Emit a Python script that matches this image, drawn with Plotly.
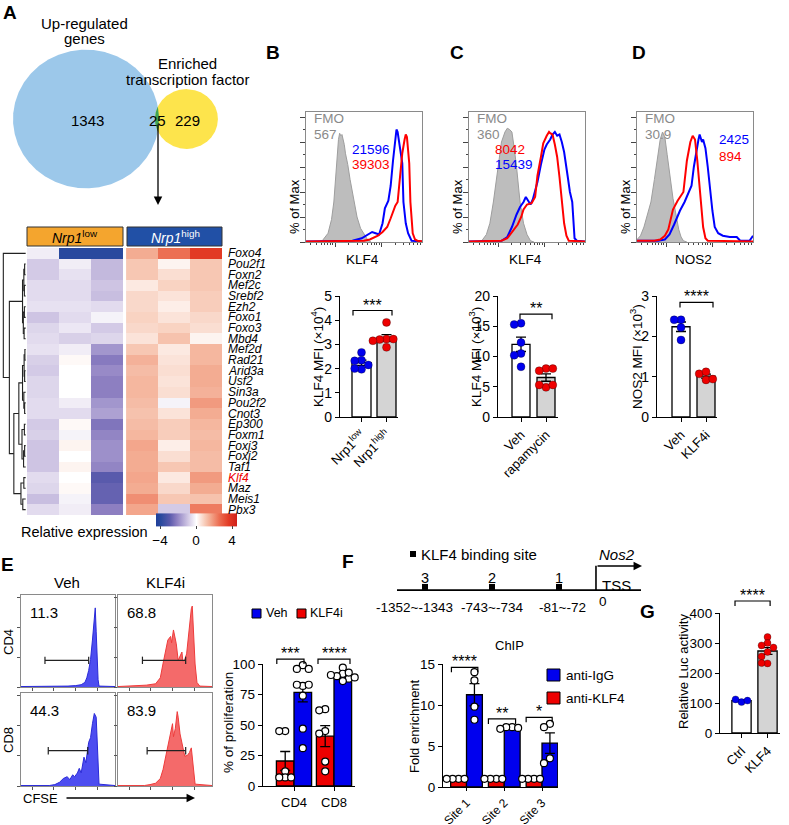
import numpy as np
import plotly.graph_objects as go

W, H = 789, 825
FONT = "Arial, Liberation Sans, sans-serif"
BLUE, RED, GREY = "#0000ee", "#ee0000", "#d4d4d4"

# ---------------- A: Venn counts and heatmap
venn_blue_only, venn_both, venn_yellow_only = 1343, 25, 229

genes = ["Foxo4", "Pou2f1", "Foxn2", "Mef2c", "Srebf2", "Ezh2", "Foxo1", "Foxo3", "Mbd4",
         "Mef2d", "Rad21", "Arid3a", "Usf2", "Sin3a", "Pou2f2", "Cnot3", "Ep300", "Foxm1",
         "Foxj3", "Foxj2", "Taf1", "Klf4", "Maz", "Meis1", "Pbx3"]
expr_low = [
    [-0.3, -4.0, -4.0], [-0.9, -0.3, -1.2], [-0.9, -0.5, -1.2], [-0.6, -0.6, -1.0],
    [-0.6, -0.6, -1.1], [-0.5, -0.5, -0.6], [-1.0, -0.6, -0.2], [-0.7, -0.4, -0.9],
    [-0.6, -0.8, -0.7], [-0.5, -0.3, -1.8], [-0.8, 0.1, -2.3], [-0.9, 0.0, -2.0],
    [-0.7, 0.0, -2.2], [-0.7, 0.0, -2.2], [-0.6, -0.3, -1.8], [-0.6, -0.6, -1.6],
    [-0.9, 0.1, -2.4], [-0.8, -0.2, -2.1], [-1.0, 0.2, -1.9], [-1.0, 0.0, -1.9],
    [-1.0, 0.2, -2.1], [-0.6, 0.0, -3.0], [-0.7, 0.1, -2.8], [-1.1, -0.2, -2.8],
    [-0.6, -0.3, -2.2]]
expr_high = [
    [1.5, 2.5, 3.6], [1.0, 0.2, 1.0], [1.0, 0.6, 1.0], [0.4, 0.8, 1.0],
    [0.7, 0.5, 0.9], [0.7, 0.3, 0.9], [0.8, 0.5, 0.7], [0.7, 0.8, 0.6],
    [0.5, 1.1, 0.2], [1.0, 0.4, 1.3], [1.4, 0.5, 1.3], [1.2, 0.6, 1.5],
    [1.3, 0.5, 1.5], [1.3, 0.6, 1.4], [1.2, -0.2, 1.8], [1.1, 0.5, 1.5],
    [1.2, 0.9, 1.3], [1.3, 0.9, 1.2], [1.6, 0.3, 1.3], [1.5, 0.6, 1.2],
    [1.5, 1.0, 1.2], [1.6, 0.4, 1.8], [1.5, 0.7, 1.5], [2.0, 1.0, 1.1],
    [1.6, -0.9, 2.3]]
# row clustering as (height, left, right); ints are row indices
top_group = (0.12, (0.07, (0.04, 1, 2), (0.05, 3, 4)), (0.09, (0.05, 5, 6), (0.06, 7, 8)))
mid_group = (0.26, (0.12, (0.06, (0.03, 9, 10), (0.04, 11, 12)), (0.07, 13, (0.04, 14, 15))),
             (0.14, (0.05, 16, 17), (0.08, (0.04, 18, 19), 20)))
low_group = (0.18, (0.07, 21, 22), (0.11, 23, 24))
dendro_tree = (0.85, 0, (0.62, top_group, (0.45, mid_group, low_group)))

# ---------------- B-D flow histograms (x: position on log axis 0-100, y: % of max)
B_fmo_x = [10, 14, 19, 22, 24, 26, 27, 28, 29, 30, 31, 33, 34, 36, 38, 41, 44, 47, 50, 53, 56]
B_fmo_y = [0, 1, 7, 18, 32, 55, 72, 82, 87, 85, 86, 78, 71, 62, 50, 34, 20, 11, 6, 2, 0]
B_low_x = [0, 28, 40, 48, 53, 57, 60, 63, 66, 68, 71, 73, 75, 76, 77, 78, 79, 81, 83, 84, 86, 88, 91, 100]
B_low_y = [0.5, 0.5, 1, 3, 6, 8, 7, 6, 15, 27, 33, 45, 65, 73, 85, 90, 88, 75, 63, 32, 15, 7, 1, 0.5]
B_high_x = [0, 40, 50, 55, 62, 66, 70, 73, 75, 77, 79, 81, 83, 85, 86, 87, 88, 89, 90, 91, 92, 94, 96, 100]
B_high_y = [0.5, 0.5, 1, 2, 5, 8, 12, 19, 25, 29, 32, 52, 71, 82, 86, 84, 75, 63, 32, 15, 7, 2, 1, 0.5]

C_fmo_x = [5, 11, 15, 18, 21, 25, 28, 31, 33, 35, 37, 39, 41, 44, 47, 50, 53, 56]
C_fmo_y = [0, 1, 6, 15, 32, 60, 80, 88, 91, 90, 88, 75, 60, 32, 15, 6, 1, 0]
C_rapa_x = [0, 20, 28, 33, 38, 42, 45, 47, 50, 54, 57, 59, 62, 64, 67, 69, 70, 72, 74, 76, 78, 80, 82, 84, 86, 100]
C_rapa_y = [0.5, 0.5, 1, 3, 9, 14, 20, 26, 30, 31, 36, 53, 68, 79, 85, 88, 87, 86, 78, 68, 52, 32, 15, 5, 1, 0.5]
C_veh_x = [0, 20, 28, 33, 37, 41, 44, 47, 49, 51, 53, 55, 57, 59, 62, 65, 67, 70, 72, 74, 76, 78, 80, 82, 85, 87, 89, 90, 91, 93, 100]
C_veh_y = [0.5, 0.5, 1, 4, 12, 22, 28, 32, 36, 33, 30, 34, 40, 48, 62, 74, 78, 82, 86, 88, 85, 86, 80, 72, 53, 40, 32, 15, 3, 1, 0.5]

D_fmo_x = [0, 3, 6, 9, 12, 15, 18, 20, 22, 24, 26, 28, 31, 34, 36, 38, 40, 43]
D_fmo_y = [2, 5, 12, 22, 32, 50, 70, 82, 88, 84, 70, 55, 35, 20, 10, 4, 1, 0]
D_klf4i_x = [0, 15, 20, 24, 27, 31, 35, 40, 43, 46, 48, 50, 52, 55, 57, 59, 61, 100]
D_klf4i_y = [1, 1, 2, 5, 10, 26, 33, 40, 65, 80, 85, 82, 65, 32, 12, 3, 1, 0.5]
D_veh_x = [0, 18, 24, 28, 32, 37, 41, 44, 47, 49, 51, 53, 54, 56, 57, 59, 61, 63, 65, 67, 70, 74, 80, 86, 89, 93, 97, 100]
D_veh_y = [1, 1, 2, 6, 14, 25, 32, 38, 45, 60, 72, 82, 86, 80, 82, 75, 60, 40, 25, 12, 7, 5, 4, 4, 1, 1, 1, 5]

B_mfi = ["567", "21596", "39303"]
C_mfi = ["360", "8042", "15439"]
D_mfi = ["30.9", "2425", "894"]

# ---------------- B-D MFI bar data
B_low_pts = [2.67, 2.35, 2.32, 2.15, 1.97, 2.0]
B_high_pts = [3.91, 3.22, 3.2, 3.22, 3.15, 2.88]
C_veh_pts = [15.5, 15.3, 12.3, 10.5, 10.2, 8.3]
C_rapa_pts = [8.0, 7.65, 8.0, 4.9, 5.3, 5.3]
D_veh_pts = [2.41, 2.41, 2.22, 1.91]
D_klf4i_pts = [0.92, 1.07, 1.12, 0.94]

# ---------------- E: CFSE histograms and proliferation
E_cd4_veh_x = [0, 40, 50, 58, 64, 68, 70, 72, 74, 76, 77, 78, 79, 80, 81, 82, 83, 100]
E_cd4_veh_y = [0.5, 0.5, 1, 1.5, 2.5, 5, 10, 18, 30, 51, 66, 80, 86, 60, 25, 8, 1, 0.5]
E_cd4_klf_x = [0, 20, 30, 40, 45, 48, 51, 53, 56, 57, 59, 61, 62, 64, 66, 68, 69, 71, 73, 75, 76, 78, 79, 80, 82, 84, 87, 100]
E_cd4_klf_y = [0.5, 1, 2, 3.5, 10, 26, 40, 51, 55, 48, 62, 52, 47, 29, 33, 38, 28, 30, 36, 55, 69, 85, 88, 62, 25, 5, 1, 0.5]
E_cd8_veh_x = [0, 30, 36, 41, 45, 49, 52, 55, 57, 60, 62, 64, 67, 69, 72, 74, 76, 78, 80, 82, 83, 100]
E_cd8_veh_y = [0.5, 0.5, 1.5, 4, 8, 10, 7, 12, 10, 14, 19, 14, 31, 25, 47, 52, 67, 78, 74, 25, 2, 0.5]
E_cd8_klf_x = [0, 28, 34, 40, 45, 48, 50, 53, 55, 58, 59, 61, 63, 64, 66, 69, 71, 74, 76, 78, 80, 82, 100]
E_cd8_klf_y = [0.5, 0.5, 1.5, 3, 8, 18, 28, 42, 53, 67, 53, 62, 80, 74, 56, 41, 32, 33, 36, 41, 20, 2, 0.5]
E_pct = ["11.3", "68.8", "44.3", "83.9"]
E_gates = [(25.5, 72, 29), (26, 72, 29), (29, 71, 38), (31, 72, 38)]

E_cd4_klf4i = [45, 45, 12, 7, 7, 7]
E_cd4_veh = [99, 96, 96, 82, 83, 83, 74, 47, 31]
E_cd8_klf4i = [63, 62, 45, 43, 20, 12]
E_cd8_veh = [97, 92, 90, 88, 91, 89, 86, 93]

# ---------------- F: ChIP
sites = ["3", "2", "1"]
site_ranges = ["-1352~-1343", "-743~-734", "-81~-72"]
chip_sites = ["Site 1", "Site 2", "Site 3"]
chip_klf4 = [[1.0, 1.0, 1.0, 1.0], [1.0, 1.0, 1.0, 1.0], [1.0, 1.0, 1.0, 1.0]]
chip_igg = [[14.0, 13.0, 9.8, 8.2], [7.3, 7.3, 7.2, 7.1], [7.7, 7.3, 3.5, 2.9]]
chip_stars = ["****", "**", "*"]

# ---------------- G: luciferase
luc_ctrl = [103, 112, 108]
luc_klf4 = [320, 300, 292, 285, 270, 255, 232, 233]

fig = go.Figure()
ann, shapes, axes_layout, AX = [], [], {}, {}


def add_axes(n, xpx, ypx, xr, yr, xkw=None, ykw=None):
    AX[n] = (xpx, ypx, xr, yr)
    s = "" if n == 1 else str(n)
    base = dict(showgrid=False, zeroline=False, showticklabels=False, ticks="", showline=False, automargin=False)
    xa = dict(base, domain=[xpx[0] / W, xpx[1] / W], range=xr, anchor="y" + s)
    xa.update(xkw or {})
    ya = dict(base, domain=[1 - ypx[1] / H, 1 - ypx[0] / H], range=yr, anchor="x" + s)
    ya.update(ykw or {})
    axes_layout["xaxis" + s] = xa
    axes_layout["yaxis" + s] = ya


def xy(n):
    s = "" if n == 1 else str(n)
    return dict(xaxis="x" + s, yaxis="y" + s)


def to_px(n, x, y):
    xpx, ypx, xr, yr = AX[n]
    px = xpx[0] + (x - xr[0]) / (xr[1] - xr[0]) * (xpx[1] - xpx[0])
    py = ypx[1] - (y - yr[0]) / (yr[1] - yr[0]) * (ypx[1] - ypx[0])
    return px, py


def text(x, y, t, size=13, color="black", xa="center", ya="middle", angle=0, xref="paper", yref="paper"):
    if xref == "paper":
        x = x / W
    if yref == "paper":
        y = 1 - y / H
    ann.append(dict(x=x, y=y, xref=xref, yref=yref, text=t, showarrow=False, textangle=angle,
                    font=dict(size=size, color=color), xanchor=xa, yanchor=ya))


def arrow(x1, y1, dx, dy):
    ann.append(dict(x=x1 / W, y=1 - y1 / H, xref="paper", yref="paper", text="", showarrow=True,
                    ax=dx, ay=dy, arrowhead=2, arrowsize=1.3, arrowwidth=1.3, arrowcolor="black"))


def bracket(n, x0, x1, y, stars, size=16):
    a, b = to_px(n, x0, y)
    c, _ = to_px(n, x1, y)
    shapes.append(dict(type="path", xref="paper", yref="paper", line=dict(color="black", width=1.2),
                       path=f"M {a / W},{1 - (b + 5) / H} L {a / W},{1 - b / H} L {c / W},{1 - b / H} L {c / W},{1 - (b + 5) / H}"))
    text((a + c) / 2, b + 5, stars, size=size, ya="bottom")


def swarm(n, center, vals, size):
    xpx, ypx, xr, yr = AX[n]
    sx = (xpx[1] - xpx[0]) / (xr[1] - xr[0])
    sy = (ypx[1] - ypx[0]) / (yr[1] - yr[0])
    step, gap = size * 0.85, size * 0.8
    placed, xs = [], []
    for v in vals:
        for k in [0, -1, 1, -2, 2, -3, 3, -4, 4]:
            dx = k * step
            if all((dx - pdx) ** 2 + ((v - pv) * sy) ** 2 >= gap ** 2 for pdx, pv in placed):
                break
        placed.append((dx, v))
        xs.append(center + dx / sx)
    return xs


def dot_bar(n, x, vals, fill, dot, width, size=8, open_dot=False):
    v = np.array(vals, dtype=float)
    m = v.mean()
    se = v.std(ddof=1) / np.sqrt(len(v))
    fig.add_trace(go.Bar(x=[x], y=[m], width=width, marker=dict(color=fill, line=dict(color="black", width=1.3)), **xy(n)))
    fig.add_trace(go.Scatter(x=[x], y=[m], mode="markers", marker=dict(size=2, color="rgba(0,0,0,0)"),
                             error_y=dict(type="data", array=[se], color="black", thickness=1.3, width=5), **xy(n)))
    if open_dot:
        mk = dict(size=size, color="white", line=dict(color="black", width=1.2))
    else:
        mk = dict(size=size, color=dot, line=dict(color="black", width=0.3))
    fig.add_trace(go.Scatter(x=swarm(n, x, v, size), y=v, mode="markers", marker=mk, cliponaxis=False, **xy(n)))


def bar_axes(n, xpx, ypx, xr, yr, tickvals, ticktext, ytickvals, angle=-45, xfont=13, yfont=14):
    xkw = dict(showline=True, linecolor="black", linewidth=1.3, ticks="outside", ticklen=4, tickwidth=1.3,
               tickcolor="black", tickvals=tickvals, ticktext=ticktext, tickangle=angle,
               showticklabels=True, tickfont=dict(size=xfont))
    ykw = dict(showline=True, linecolor="black", linewidth=1.3, ticks="outside", ticklen=4, tickwidth=1.3,
               tickcolor="black", tickvals=ytickvals, showticklabels=True, tickfont=dict(size=yfont))
    add_axes(n, xpx, ypx, xr, yr, xkw, ykw)


# ================= A: Venn
add_axes(1, (0, 260), (0, 215), [0, 260], [215, 0])
k = 73 / np.sqrt(venn_blue_only + venn_both)
rb = k * np.sqrt(venn_blue_only + venn_both)
ry = k * np.sqrt(venn_yellow_only + venn_both)
squash = 0.95
cb, cy = (86, 119), (86 + rb + ry - 4, 119)
t = np.linspace(0, 2 * np.pi, 721)
bx, by = cb[0] + rb * np.cos(t), cb[1] + rb * squash * np.sin(t)
yx, yy = cy[0] + ry * np.cos(t), cy[1] + ry * squash * np.sin(t)
fig.add_trace(go.Scatter(x=bx, y=by, fill="toself", fillcolor="#9cc8ea", line=dict(width=0), mode="lines", **xy(1)))
fig.add_trace(go.Scatter(x=yx, y=yy, fill="toself", fillcolor="#fde44c", line=dict(width=0), mode="lines", **xy(1)))
in_y = ((bx - cy[0]) / ry) ** 2 + ((by - cy[1]) / (ry * squash)) ** 2 <= 1
in_b = ((yx - cb[0]) / rb) ** 2 + ((yy - cb[1]) / (rb * squash)) ** 2 <= 1
lx, ly = np.r_[bx[in_y], yx[in_b]], np.r_[by[in_y], yy[in_b]]
order = np.argsort(np.arctan2(ly - ly.mean(), lx - lx.mean()))
fig.add_trace(go.Scatter(x=lx[order], y=ly[order], fill="toself", fillcolor="#3fa355", line=dict(width=0),
                         mode="lines", **xy(1)))
text(cb[0] + 1, cb[1] + 1, str(venn_blue_only), size=15, xref="x", yref="y")
text(157, cb[1] + 1, str(venn_both), size=15, xref="x", yref="y")
text(cy[0] + 1, cy[1] + 1, str(venn_yellow_only), size=15, xref="x", yref="y")
text(84, 24, "Up-regulated", size=15)
text(84, 39, "genes", size=15)
text(187, 63, "Enriched", size=15)
text(187, 80, "transcription factor", size=15)
arrow(158, 205, 0, -82)
text(10, 13, "<b>A</b>", size=19)

# ================= A: heatmap + dendrogram
nrow = len(genes)
add_axes(3, (27, 222), (248, 515), [-0.5, 5.6], [nrow - 0.5, -0.5])
fig.add_trace(go.Heatmap(z=expr_low, x=[0, 1, 2], y=list(range(nrow)), coloraxis="coloraxis", **xy(3)))
fig.add_trace(go.Heatmap(z=expr_high, x=[3.1, 4.1, 5.1], y=list(range(nrow)), coloraxis="coloraxis", **xy(3)))
for i, g in enumerate(genes):
    text(226, i, f"<i>{g}</i>", size=12, color=RED if g == "Klf4" else "black", xa="left", yref="y3")

add_axes(2, (2, 27), (248, 515), [0.9, -0.05], [nrow - 0.5, -0.5])


def dendro_lines(node):
    if isinstance(node, int):
        return float(node), 0.0, []
    h, l, r = node
    yl, hl, sl = dendro_lines(l)
    yr, hr, sr = dendro_lines(r)
    return (yl + yr) / 2, h, sl + sr + [([hl, h, h, hr], [yl, yl, yr, yr])]


_, _, segs = dendro_lines(dendro_tree)
dx_, dy_ = [], []
for sx_, sy_ in segs:
    dx_ += sx_ + [None]
    dy_ += sy_ + [None]
fig.add_trace(go.Scatter(x=dx_, y=dy_, mode="lines", line=dict(color="#222", width=1.1), **xy(2)))

shapes.append(dict(type="rect", xref="paper", yref="paper", x0=27 / W, x1=123 / W, y0=1 - 246 / H, y1=1 - 227 / H,
                   fillcolor="#f4a52e", line=dict(color="#333", width=1)))
shapes.append(dict(type="rect", xref="paper", yref="paper", x0=127 / W, x1=222 / W, y0=1 - 246 / H, y1=1 - 227 / H,
                   fillcolor="#2150a6", line=dict(color="#333", width=1)))
text(75, 237, "<i>Nrp1</i><sup>low</sup>", size=14)
text(175, 237, "<i>Nrp1</i><sup>high</sup>", size=14, color="white")
text(84, 532, "Relative expression", size=14.5)

# ================= B-D flow histograms
hist_minor = [p for d in (-1, 0, 1) for p in (25 + 40 * d + 40 * np.log10(np.arange(2, 10)))
              if 0 < p < 100]


def flow_hist(n, xpx, fmo, blue, red, mfi, blue_first, label, txt_pos, ylab_x):
    xkw = dict(showline=True, mirror=True, linecolor="#8a8a8a", linewidth=1, ticks="outside", ticklen=4,
               tickcolor="#444", tickvals=[25, 65], minor=dict(ticks="outside", ticklen=2, tickcolor="#444",
                                                                tickvals=hist_minor))
    ykw = dict(showline=True, mirror=True, linecolor="#8a8a8a", linewidth=1, ticks="outside", ticklen=5,
               tickcolor="#444", tickvals=[0, 20, 40, 60, 80, 100],
               minor=dict(ticks="outside", ticklen=2, tickcolor="#444", tickvals=[10, 30, 50, 70, 90]))
    add_axes(n, xpx, (112, 242), [0, 100], [0, 104], xkw, ykw)
    fig.add_trace(go.Scatter(x=fmo[0], y=fmo[1], fill="tozeroy", fillcolor="#bdbdbd", mode="lines",
                             line=dict(color="#9e9e9e", width=1), **xy(n)))
    fig.add_trace(go.Scatter(x=blue[0], y=blue[1], mode="lines", line=dict(color="#0000ff", width=2), **xy(n)))
    fig.add_trace(go.Scatter(x=red[0], y=red[1], mode="lines", line=dict(color="#ff0000", width=2), **xy(n)))
    x0 = xpx[0]
    text(x0 + 6, 118, "FMO", size=13.5, color="#8a8a8a", xa="left")
    text(x0 + 6, 135, mfi[0], size=13.5, color="#8a8a8a", xa="left")
    tx, ty = txt_pos
    c1, c2 = ("#0000ff", "#ff0000") if blue_first else ("#ff0000", "#0000ff")
    text(tx, ty, mfi[1], size=13.5, color=c1, xa="left")
    text(tx, ty + 16, mfi[2], size=13.5, color=c2, xa="left")
    text((xpx[0] + xpx[1]) / 2 - 2, 259, label, size=13.5)
    text(ylab_x, 207, "% of Max", size=13, angle=-90)


flow_hist(4, (306, 422), (B_fmo_x, B_fmo_y), (B_low_x, B_low_y), (B_high_x, B_high_y), B_mfi, True, "KLF4", (350, 149), 294)
flow_hist(5, (469, 585), (C_fmo_x, C_fmo_y), (C_veh_x, C_veh_y), (C_rapa_x, C_rapa_y), C_mfi, False, "KLF4", (493, 149), 457)
flow_hist(6, (637, 753), (D_fmo_x, D_fmo_y), (D_veh_x, D_veh_y), (D_klf4i_x, D_klf4i_y), D_mfi, True, "NOS2", (717, 140), 625)
text(273, 53, "<b>B</b>", size=19)
text(457, 53, "<b>C</b>", size=19)
text(639, 53, "<b>D</b>", size=19)

# ================= B-D MFI bars
bar_axes(7, (340, 398), (296, 417), [-0.86, 1.46], [0, 5], [0, 1],
         ["Nrp1<sup>low</sup>", "Nrp1<sup>high</sup>"], [0, 1, 2, 3, 4, 5])
dot_bar(7, 0, B_low_pts, "white", BLUE, 0.76)
dot_bar(7, 1, B_high_pts, GREY, RED, 0.76)
bracket(7, -0.34, 1.22, 4.4, "***")
text(317, 357, "KLF4 MFI (×10<sup>4</sup>)", size=13.5, angle=-90)

bar_axes(8, (498, 558), (296, 417), [-0.92, 1.48], [0, 20], [0, 1], ["Veh", "rapamycin"], [0, 5, 10, 15, 20])
dot_bar(8, 0, C_veh_pts, "white", BLUE, 0.72)
dot_bar(8, 1, C_rapa_pts, GREY, RED, 0.72)
bracket(8, -0.04, 1.24, 17.0, "**")
text(475, 357, "KLF4 MFI (×10<sup>3</sup>)", size=13.5, angle=-90)

bar_axes(9, (657, 717), (296, 417), [-0.96, 1.44], [0, 3], [0, 1], ["Veh", "KLF4i"], [0, 1, 2, 3])
dot_bar(9, 0, D_veh_pts, "white", BLUE, 0.72)
dot_bar(9, 1, D_klf4i_pts, GREY, RED, 0.72)
bracket(9, -0.04, 1.28, 2.84, "****")
text(636, 357, "NOS2 MFI (×10<sup>3</sup>)", size=13.5, angle=-90)

# ================= E: CFSE histograms
e_boxes = [(10, (21, 115), (595, 687), E_cd4_veh_x, E_cd4_veh_y, "#4d4df0", "#2a2ad8"),
           (11, (118, 212), (595, 687), E_cd4_klf_x, E_cd4_klf_y, "#f46a6a", "#ee3c3c"),
           (12, (21, 115), (693, 786), E_cd8_veh_x, E_cd8_veh_y, "#4d4df0", "#2a2ad8"),
           (13, (118, 212), (693, 786), E_cd8_klf_x, E_cd8_klf_y, "#f46a6a", "#ee3c3c")]
for j, (n, xpx, ypx, hx, hy, fc, lc) in enumerate(e_boxes):
    xkw = dict(showline=True, mirror=True, linecolor="#8a8a8a", linewidth=1, ticks="outside", ticklen=3,
               tickcolor="#555", tickvals=[12, 35, 58, 81])
    ykw = dict(showline=True, mirror=True, linecolor="#8a8a8a", linewidth=1, ticks="outside", ticklen=3,
               tickcolor="#555", tickvals=[0, 32.5, 65, 97.5])
    add_axes(n, xpx, ypx, [0, 100], [0, 100], xkw, ykw)
    fig.add_trace(go.Scatter(x=hx, y=hy, fill="tozeroy", fillcolor=fc, mode="lines",
                             line=dict(color=lc, width=1), **xy(n)))
    g0, g1, gh = E_gates[j]
    fig.add_trace(go.Scatter(x=[g0, g1, None, g0, g0, None, g1, g1], y=[gh, gh, None, gh - 4, gh + 4, None, gh - 4, gh + 4],
                             mode="lines", line=dict(color="#222", width=1.2), **xy(n)))
    text(xpx[0] + 7, ypx[0] + 17, E_pct[j], size=15, xa="left")
text(67, 582, "Veh", size=15)
text(165, 582, "KLF4i", size=15)
text(8, 642, "CD4", size=13, angle=-90)
text(8, 740, "CD8", size=13, angle=-90)
text(40, 798, "CFSE", size=13)
arrow(195, 798, -130, 0)
text(8, 564, "<b>E</b>", size=19)

# ================= E: proliferation bars
bar_axes(14, (263, 355), (664, 786), [-0.775, 1.525], [0, 100], [0, 1], ["CD4", "CD8"], [0, 25, 50, 75, 100],
         angle=0, yfont=13.5)
for c, (kl, vh) in enumerate([(E_cd4_klf4i, E_cd4_veh), (E_cd8_klf4i, E_cd8_veh)]):
    dot_bar(14, c - 0.22, kl, RED, RED, 0.44, size=7, open_dot=True)
    dot_bar(14, c + 0.22, vh, BLUE, BLUE, 0.44, size=7, open_dot=True)
bracket(14, -0.43, 0.25, 104, "***")
bracket(14, 0.6, 1.4, 104, "****")
text(228, 722, "% of proliferation", size=13.5, angle=-90)
shapes.append(dict(type="rect", xref="paper", yref="paper", x0=252 / W, x1=261 / W, y0=1 - 618 / H, y1=1 - 609 / H,
                   fillcolor=BLUE, line=dict(color="black", width=1)))
text(264, 613, "Veh", size=12.5, xa="left")
shapes.append(dict(type="rect", xref="paper", yref="paper", x0=297 / W, x1=306 / W, y0=1 - 618 / H, y1=1 - 609 / H,
                   fillcolor=RED, line=dict(color="black", width=1)))
text(308, 613, "KLF4i", size=12.5, xa="left")

# ================= F: promoter schematic
add_axes(15, (397, 641), (555, 600), [-0.418, 3.224], [0, 1])
tss = 2.552
fig.add_trace(go.Scatter(x=[-0.418, 3.224, None, tss, tss], y=[0.22, 0.22, None, 0.22, 0.76], mode="lines",
                         line=dict(color="black", width=1.6), **xy(15)))
site_x = list(range(len(sites)))
fig.add_trace(go.Scatter(x=site_x, y=[0.29] * len(sites), mode="markers",
                         marker=dict(symbol="square", size=6, color="black"), **xy(15)))
for i, s in enumerate(sites):
    text(i, 578, s, size=14.5, xref="x15")
    text(i - (0.15 if i == 0 else 0.0) + (0.05 if i == 2 else 0), 607, site_ranges[i], size=13.5, xref="x15")
text(603, 601, "0", size=13.5)
text(600, 585, "TSS", size=15, xa="left")
arrow(642, 566, -46, 0)
shapes.append(dict(type="rect", xref="paper", yref="paper", x0=410 / W, x1=416 / W, y0=1 - 557 / H, y1=1 - 551 / H,
                   fillcolor="black", line=dict(width=0)))
text(419, 554, "KLF4 binding site", size=15, xa="left")
text(597, 554, "<i>Nos2</i>", size=15, xa="left")
text(348, 561, "<b>F</b>", size=19)

# ================= F: ChIP bars
bar_axes(16, (443, 558), (664, 787), [-0.623, 2.424], [0, 15], [0, 1, 2], chip_sites, [0, 5, 10, 15],
         xfont=12, yfont=13.5)
axes_layout["xaxis16"]["ticklen"] = 3
for i in range(len(chip_sites)):
    dot_bar(16, i - 0.21, chip_klf4[i], RED, RED, 0.42, size=7, open_dot=True)
    dot_bar(16, i + 0.21, chip_igg[i], BLUE, BLUE, 0.42, size=7, open_dot=True)
bracket(16, -0.4, 0.3, 14.6, chip_stars[0])
bracket(16, 0.58, 1.3, 8.3, chip_stars[1])
bracket(16, 1.58, 2.27, 8.5, chip_stars[2])
text(509, 645, "ChIP", size=13)
text(414, 726, "Fold enrichment", size=13, angle=-90)
for yc, col, lab in [(675, BLUE, "anti-IgG"), (698, RED, "anti-KLF4")]:
    shapes.append(dict(type="rect", xref="paper", yref="paper", x0=547 / W, x1=560 / W, y0=1 - (yc + 6) / H,
                       y1=1 - (yc - 6) / H, fillcolor=col, line=dict(color="black", width=1)))
    text(564, yc, lab, size=13.5, xa="left")

# ================= G: luciferase
bar_axes(17, (720, 780), (613, 733), [-0.827, 1.48], [0, 400], [0, 1], ["Ctrl", "KLF4"], [0, 100, 200, 300, 400],
         yfont=13.5)
dot_bar(17, 0, luc_ctrl, "white", BLUE, 0.74, size=7)
dot_bar(17, 1, luc_klf4, GREY, RED, 0.74, size=7)
bracket(17, -0.25, 1.1, 440, "****")
text(683, 672, "Relative Luc activity", size=13, angle=-90)
text(647, 611, "<b>G</b>", size=19)

fig.update_layout(
    width=W, height=H, margin=dict(l=0, r=0, t=0, b=0, autoexpand=False),
    paper_bgcolor="white", plot_bgcolor="rgba(0,0,0,0)",
    showlegend=False, barmode="overlay",
    font=dict(family=FONT, color="black"),
    coloraxis=dict(
        cmin=-4.5, cmax=4.5,
        colorscale=[[0, "#1f3f9a"], [0.06, "#2a4a9e"], [0.17, "#5a5aac"], [0.25, "#8a7cc0"],
                    [0.41, "#d8cfe8"], [0.5, "#ffffff"], [0.61, "#f7c8b4"], [0.67, "#f3aa90"],
                    [0.78, "#ec6e52"], [0.9, "#e23a24"], [1, "#d0201a"]],
        colorbar=dict(orientation="h", x=196 / W, xanchor="center", y=1 - 531 / H, yanchor="middle",
                      len=101, lenmode="pixels", thickness=13, thicknessmode="pixels",
                      tickvals=[-4, 0, 4], ticktext=["−4", "0", "4"], ticks="outside", ticklen=3,
                      tickfont=dict(size=13.5), outlinewidth=0)),
    annotations=ann, shapes=shapes,
    **axes_layout,
)

# the page's default 8px body margin would push the figure off the window
fig.write_html("out.html", config={"displayModeBar": False},
               post_script="document.body.style.margin='0px';")
